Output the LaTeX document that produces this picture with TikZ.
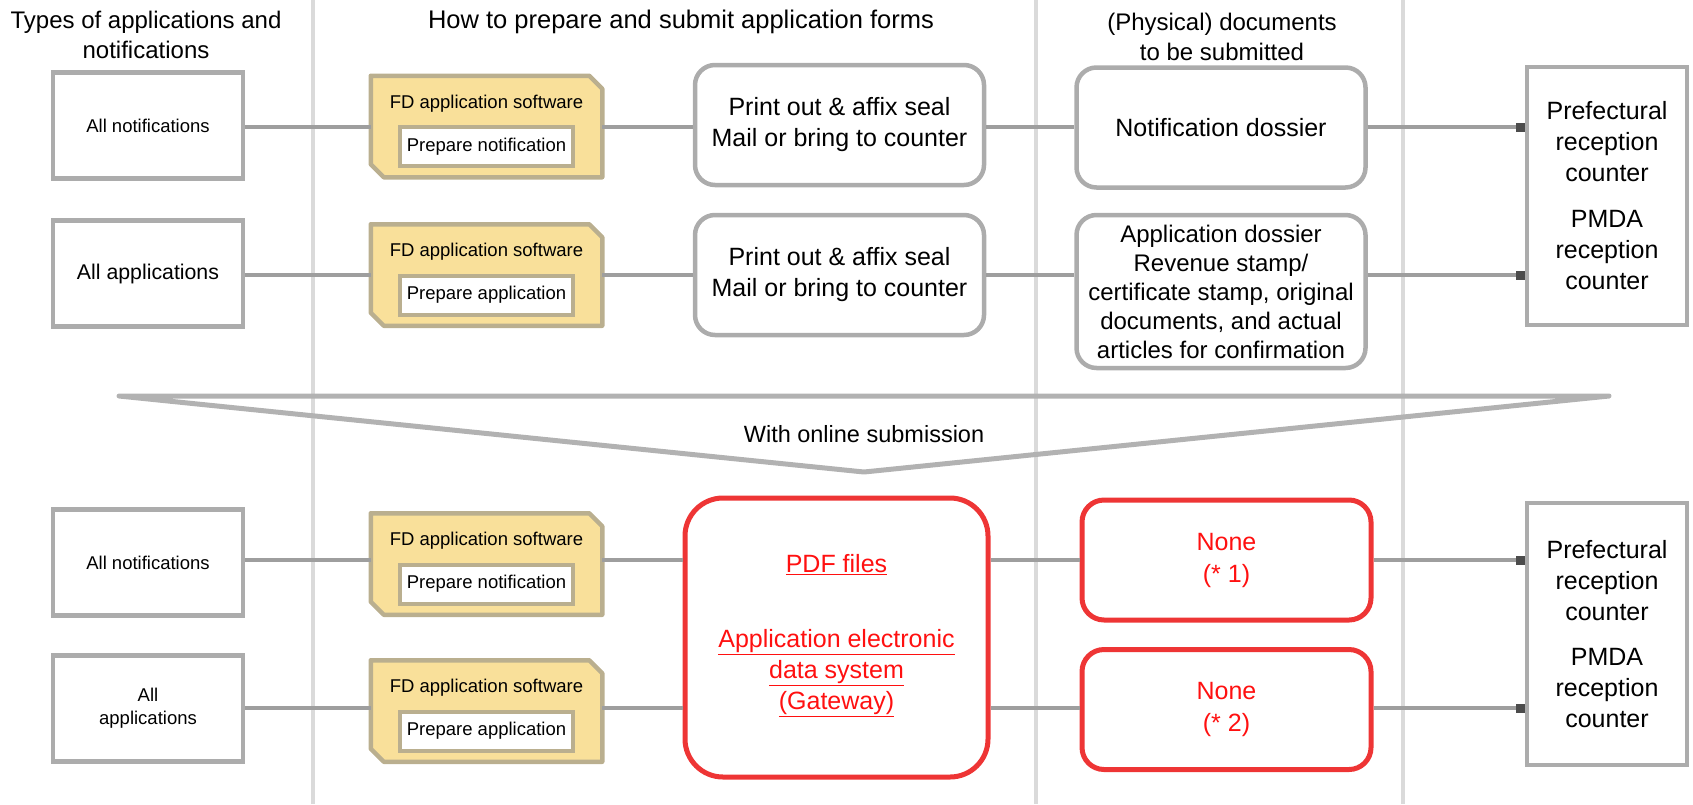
\documentclass[tikz,border=0pt]{standalone}
\usepackage{fontspec}
\setmainfont{Liberation Sans}
\usetikzlibrary{arrows.meta}

\definecolor{boxgray}{HTML}{ACACAC}
\definecolor{linegray}{HTML}{9E9E9E}
\definecolor{divgray}{HTML}{DADADA}
\definecolor{fdfill}{HTML}{F9E09A}
\definecolor{fdedge}{HTML}{BAAF8F}
\definecolor{rededge}{HTML}{EE3535}
\definecolor{redtext}{HTML}{FF1010}

\begin{document}
\begin{tikzpicture}[x=1pt,y=-1pt,
  head/.style={align=center, font=\fontsize{24}{30}\selectfont},
  kindbox/.style={draw=boxgray, line width=4.5pt, fill=white, align=center,
    minimum width=190pt, minimum height=106pt, font=\fontsize{18.5}{23}\selectfont},
  fdbox/.style={inner sep=0pt, outer sep=2.25pt, minimum width=227pt, minimum height=97pt},
  fdshape/.style={fill=fdfill, draw=fdedge, line width=4.5pt, line join=round},
  fdtitle/.style={font=\fontsize{18.5}{22}\selectfont},
  fdinner/.style={fill=white, draw=fdedge, line width=4pt, minimum width=173pt,
    minimum height=39pt, font=\fontsize{18.5}{22}\selectfont},
  stepbox/.style={draw=boxgray, line width=4.5pt, rounded corners=20pt, fill=white,
    align=center, minimum width=289pt, minimum height=120pt, font=\fontsize{25}{31}\selectfont},
  countbox/.style={draw=boxgray, line width=4.5pt, fill=white, align=center,
    minimum width=160pt, font=\fontsize{25}{31}\selectfont},
  gatebox/.style={draw=rededge, line width=5pt, rounded corners=38pt, fill=white,
    minimum width=303pt, minimum height=279pt},
  redlabel/.style={text=redtext, align=center, font=\fontsize{25}{31}\selectfont},
  nonebox/.style={draw=rededge, line width=5pt, rounded corners=22pt, fill=white,
    text=redtext, align=center, minimum width=289pt, minimum height=120pt,
    font=\fontsize{25}{32}\selectfont},
  link/.style={draw=linegray, line width=4.5pt},
  tolink/.style={link, -{Square[length=9pt,width=9pt,color=black!70]}},
  divider/.style={draw=divgray, line width=4pt},
  wedge/.style={draw=black!30, line width=5pt, line join=round}]

  \useasboundingbox (0,0) rectangle (1693,804);

  % column dividers
  \foreach \x in {313,1036,1403}
    \draw[divider] (\x,0) -- (\x,804);

  \coordinate (r1) at (0,127);
  \coordinate (r2) at (0,275);
  \coordinate (r3) at (0,560);
  \coordinate (r4) at (0,708);

  \node[head] (hkind) at (146,35) {Types of applications and\\notifications};
  \node[head, font=\fontsize{25.5}{30}\selectfont] (hhow) at (681,22) {How to prepare and submit application forms};
  \node[head] (hdocs) at (1222,37) {(Physical) documents\\to be submitted};

  \node[kindbox] (kA) at (148,125.5) {All notifications};
  \node[kindbox, font=\fontsize{21.3}{26}\selectfont] (kB) at (148,273.5) {All applications};
  \node[kindbox] (kC) at (148,562.5) {All notifications};
  \node[kindbox] (kD) at (148,708.5) {All\\applications};

  \foreach \n/\y/\t in {fdA/126.5/notification, fdB/275/application,
                        fdC/564/notification, fdD/711/application} {
    \node[fdbox] (\n) at (486.5,\y) {};
    \draw[fdshape] (\n.north west) -- ([xshift=-13pt]\n.north east)
      -- ([yshift=-13pt]\n.north east) -- (\n.south east)
      -- ([xshift=13pt]\n.south west) -- ([yshift=13pt]\n.south west) -- cycle;
    \node[fdtitle] (\n-title) at (486.5,\y-23) {FD application software};
    \node[fdinner] (\n-prep) at (486.5,\y+20) {Prepare \t};
  }

  \node[stepbox] (pA) at (839.5,125) {Print out \& affix seal\\Mail or bring to counter};
  \node[stepbox] (pB) at (839.5,275) {Print out \& affix seal\\Mail or bring to counter};

  \node[stepbox] (dA) at (1221,127.5) {Notification dossier};
  \node[stepbox, minimum height=153pt, font=\fontsize{24}{29}\selectfont] (dB) at (1221,291.5)
    {Application dossier\\Revenue stamp/\\certificate stamp, original\\documents, and actual\\articles for confirmation};

  \node[countbox, minimum height=258pt] (recvA) at (1607,196)
    {Prefectural\\reception\\counter\\[15pt]PMDA\\reception\\counter};
  \node[countbox, minimum height=262pt] (recvB) at (1607,634)
    {Prefectural\\reception\\counter\\[14pt]PMDA\\reception\\counter};

  % online part
  \coordinate (wl) at (119,396);
  \coordinate (wr) at (1609,396);
  \coordinate (wp) at (864,472);
  \draw[wedge] (wl) -- (wr) -- (wp) -- cycle;
  \node[font=\fontsize{23.5}{28}\selectfont] (online) at (864,434) {With online submission};

  \node[gatebox] (gate) at (836.5,637.5) {};
  \node[redlabel] (pdf) at (836.5,565) {\underline{PDF files}};
  \node[redlabel] (gwy) at (836.5,673)
    {\underline{Application electronic}\\\underline{data system}\\\underline{(Gateway)}};

  \node[nonebox] (nA) at (1226.5,560) {None\\(* 1)};
  \node[nonebox] (nB) at (1226.5,709.5) {None\\(* 2)};

  % connectors
  \foreach \a/\b/\r in {kA/fdA/r1, fdA/pA/r1, pA/dA/r1, kB/fdB/r2, fdB/pB/r2, pB/dB/r2,
                        kC/fdC/r3, fdC/gate/r3, gate/nA/r3, kD/fdD/r4, fdD/gate/r4, gate/nB/r4}
    \draw[link] (\a.east |- \r) -- (\b.west |- \r);
  \draw[tolink] (dA.east |- r1) -- (recvA.west |- r1);
  \draw[tolink] (dB.east |- r2) -- (recvA.west |- r2);
  \draw[tolink] (nA.east |- r3) -- (recvB.west |- r3);
  \draw[tolink] (nB.east |- r4) -- (recvB.west |- r4);
\end{tikzpicture}
\end{document}
